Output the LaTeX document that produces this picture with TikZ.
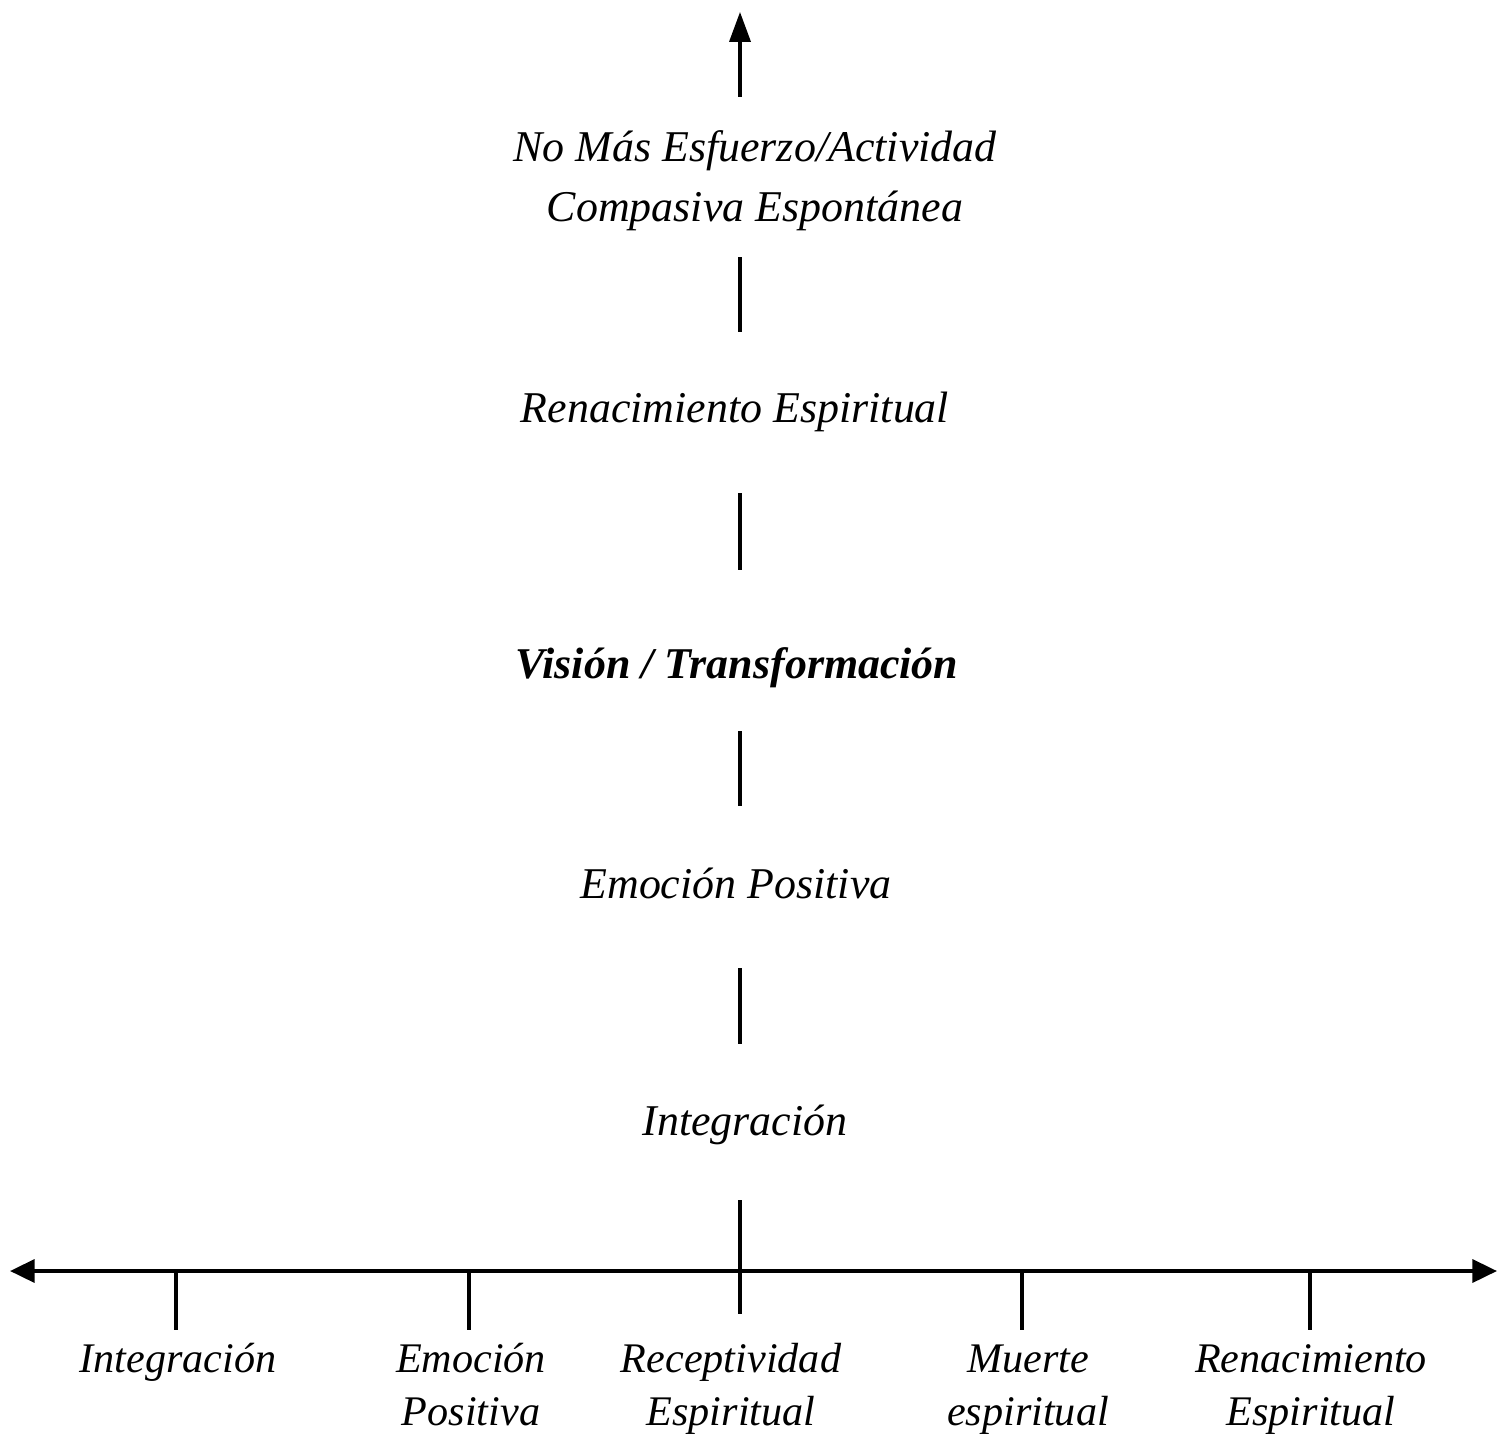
\documentclass[tikz,border=0pt]{standalone}
\usepackage{fontspec}
\setmainfont{Liberation Serif}
\usetikzlibrary{positioning}
\usetikzlibrary{arrows.meta}

\tikzset{
  etapa/.style={font=\fontsize{25}{34}\selectfont\itshape, align=center, inner sep=0pt, anchor=base},
  etapaeje/.style={font=\fontsize{24}{30}\selectfont\itshape, align=center, inner sep=0pt, anchor=base},
  tramo/.style={line width=1.8pt},
  eje/.style={line width=2.2pt, {Triangle[length=14pt,width=13pt]}-{Triangle[length=14pt,width=13pt]}},
}

\begin{document}
\begin{tikzpicture}[x=0.02cm, y=-0.02cm]
  \useasboundingbox (0,0) rectangle (1507,1433);

  % Etapas sobre la linea vertical
  \node[etapa] (cima) at (755,221) {No Más Esfuerzo/Actividad\\Compasiva Espontánea};
  \node[etapa] (renac) at (735,422) {Renacimiento Espiritual};
  \node[etapa, font=\fontsize{25}{34}\selectfont\bfseries\itshape] (vision) at (737,678) {Visión / Transformación};
  \node[etapa] (emocion) at (736,898) {Emoción Positiva};
  \node[etapa] (integra) at (745,1135) {Integración};

  % Tramos de la linea vertical
  \coordinate (f0) at (740,97);
  \coordinate (f1) at (740,12);
  \draw[tramo, -{Triangle[length=17pt,width=12pt]}] (f0) -- (f1);
  \foreach \a/\b [count=\i] in {257/332, 493/570, 731/806, 968/1044} {
    \coordinate (t\i a) at (740,\a);
    \coordinate (t\i b) at (740,\b);
    \draw[tramo] (t\i a) -- (t\i b);
  }
  \coordinate (c0) at (740,1200);
  \coordinate (c1) at (740,1314);
  \draw[tramo] (c0) -- (c1);

  % Eje horizontal
  \coordinate (izq) at (10,1271);
  \coordinate (der) at (1497,1271);
  \draw[eje] (izq) -- (der);
  \foreach \x/\n in {176/1, 469/2, 1022/4, 1310/5} {
    \coordinate (m\n) at (\x,1271);
    \coordinate (p\n) at (\x,1330);
    \draw[tramo] (m\n) -- (p\n);
  }

  % Etapas bajo el eje
  \node[etapaeje] (b1) at (178,1372) {Integración};
  \node[etapaeje] (b2) at (471,1425) {Emoción\\Positiva};
  \node[etapaeje] (b3) at (731,1425) {Receptividad\\Espiritual};
  \node[etapaeje] (b4) at (1028,1425) {Muerte\\espiritual};
  \node[etapaeje] (b5) at (1311,1425) {Renacimiento\\Espiritual};
\end{tikzpicture}
\end{document}
